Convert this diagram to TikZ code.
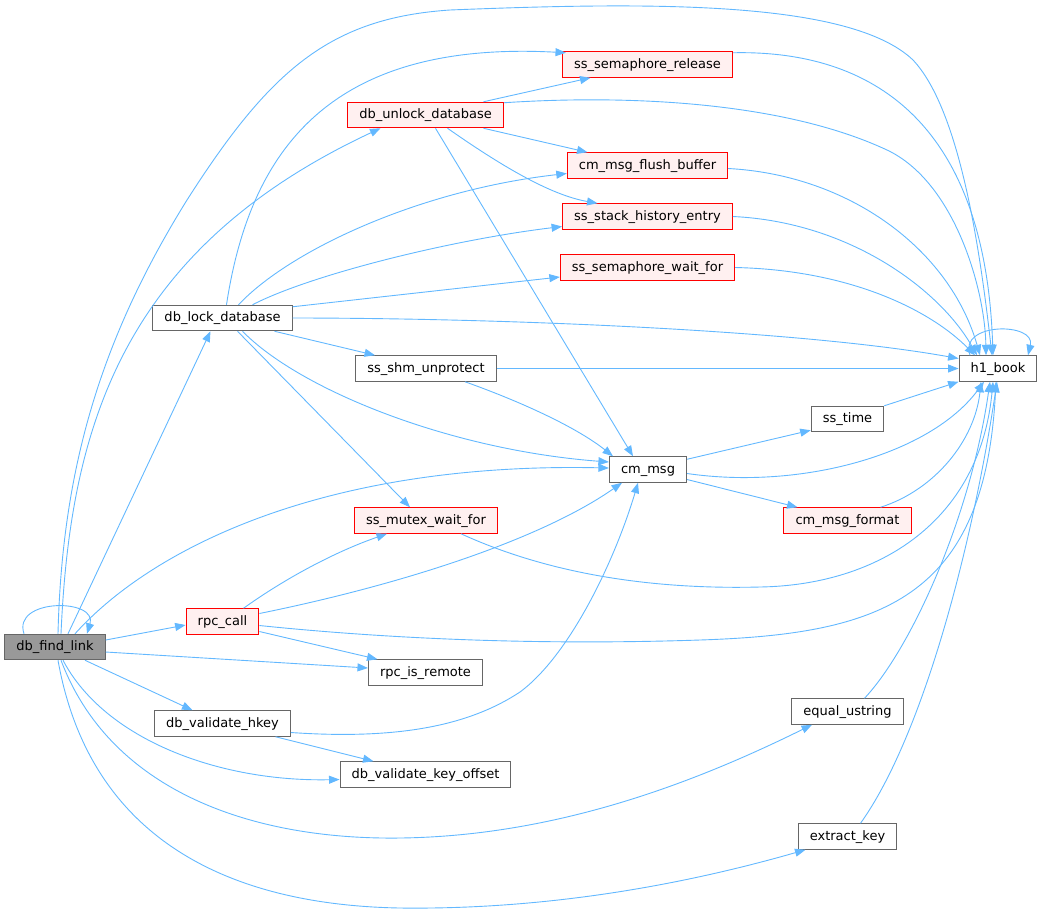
\documentclass[tikz,border=0pt]{standalone}
\usepackage{fontspec}
\setmainfont{DejaVu Sans}
\usetikzlibrary{arrows.meta}
\definecolor{linkblue}{HTML}{63B8FF}
\definecolor{boxgray}{HTML}{666666}
\definecolor{rootgray}{HTML}{999999}
\definecolor{redfill}{HTML}{FFF0F0}

\begin{document}
\begin{tikzpicture}[x=1pt,y=-1pt,
 fn/.style={draw=boxgray,fill=white,line width=1pt,minimum height=25.5pt,inner xsep=11.6pt,inner ysep=0pt,
  text height=10pt,text depth=3pt,font=\fontsize{13}{15}\selectfont},
 fnred/.style={fn,draw=red,fill=redfill},
 fnroot/.style={fn,fill=rootgray},
 calls/.style={draw=linkblue,line width=0.9pt,-{Triangle[length=10.5pt,width=8pt]}}]
 \useasboundingbox (0,0) rectangle (1043,914);

 \node[fnroot] (find) at (55,647) {db\_find\_link};
 \node[fnred] (rpccall) at (222.5,621.5) {rpc\_call};
 \node[fn] (rpcremote) at (425.5,672.5) {rpc\_is\_remote};
 \node[fn] (valhkey) at (222.5,723.5) {db\_validate\_hkey};
 \node[fn] (valkeyoff) at (425.5,774.5) {db\_validate\_key\_offset};
 \node[fn] (equstr) at (847.5,711.5) {equal\_ustring};
 \node[fn] (extkey) at (847.5,836.5) {extract\_key};
 \node[fn] (book) at (998,368.5) {h1\_book};
 \node[fn] (cmmsg) at (648,469.5) {cm\_msg};
 \node[fn] (sstime) at (847.5,419) {ss\_time};
 \node[fnred] (cmfmt) at (847.5,520.5) {cm\_msg\_format};
 \node[fnred] (mutexwait) at (426,520.5) {ss\_mutex\_wait\_for};
 \node[fn] (lockdb) at (222.5,318) {db\_lock\_database};
 \node[fn] (shmunprot) at (426,368.5) {ss\_shm\_unprotect};
 \node[fnred] (semwait) at (647.5,267.5) {ss\_semaphore\_wait\_for};
 \node[fnred] (stackhist) at (647.5,216.5) {ss\_stack\_history\_entry};
 \node[fnred] (flushbuf) at (647.5,165.5) {cm\_msg\_flush\_buffer};
 \node[fnred] (unlockdb) at (425.5,115) {db\_unlock\_database};
 \node[fnred] (semrel) at (647.5,64.5) {ss\_semaphore\_release};

 % db_find_link
 \draw[calls] ([xshift=-31]find.north) .. controls (12,598) and (98,598) .. ([xshift=32]find.north);
 \draw[calls] ([xshift=3]find.north) .. controls (62,470) and (100,340) .. (187,200)
   .. controls (270,70) and (330,18) .. (450,10) .. controls (650,2) and (850,0) .. (913,60)
   .. controls (960,110) and (980,250) .. ([xshift=-6]book.north);
 \draw[calls] ([xshift=6]find.north) .. controls (70,430) and (120,250) .. ([xshift=-45]unlockdb.south);
 \draw[calls] ([xshift=13]find.north) -- ([xshift=-12]lockdb.south);
 \draw[calls] ([xshift=20]find.north) .. controls (155,545) and (330,462) .. ([yshift=1.5]cmmsg.west);
 \draw[calls] ([yshift=7]find.east) -- ([yshift=-3.5]rpccall.west);
 \draw[calls] ([yshift=-5]find.east) -- ([yshift=4.5]rpcremote.west);
 \draw[calls] ([xshift=30]find.south) -- ([xshift=-30]valhkey.north);
 \draw[calls] ([xshift=8]find.south) .. controls (105,740) and (220,782) .. ([yshift=-5]valkeyoff.west);
 \draw[calls] ([xshift=6]find.south) .. controls (110,790) and (250,840) .. (400,838)
   .. controls (560,836) and (700,780) .. ([xshift=-35.5]equstr.south);
 \draw[calls] ([xshift=3]find.south) .. controls (90,840) and (230,905) .. (400,908)
   .. controls (560,910) and (700,880) .. ([xshift=-42]extkey.south);

 % db_lock_database
 \draw[calls] ([xshift=4]lockdb.north) .. controls (250,150) and (330,40) .. ([xshift=4,yshift=-1.5]semrel.north west);
 \draw[calls] ([xshift=16]lockdb.north) .. controls (290,250) and (420,190) .. ([yshift=-8]flushbuf.west);
 \draw[calls] ([xshift=30]lockdb.north) .. controls (310,275) and (450,240) .. ([yshift=-10]stackhist.west);
 \draw[calls] ([yshift=-2]lockdb.north east) -- ([yshift=-9.5]semwait.west);
 \draw[calls] (lockdb.east) .. controls (500,318) and (800,330) .. ([yshift=10]book.west);
 \draw[calls] ([xshift=52]lockdb.south) -- ([xshift=-51]shmunprot.north);
 \draw[calls] ([xshift=20]lockdb.south) .. controls (300,390) and (450,450) .. ([yshift=7.5]cmmsg.west);
 \draw[calls] ([xshift=15]lockdb.south) -- ([xshift=-16]mutexwait.north);

 % db_unlock_database
 \draw[calls] ([xshift=58]unlockdb.north) -- ([xshift=-57]semrel.south);
 \draw[calls] ([yshift=-1]unlockdb.north east) .. controls (620,95) and (780,100) .. (887,150)
   .. controls (955,182) and (985,290) .. ([xshift=-12]book.north);
 \draw[calls] ([xshift=58]unlockdb.south) -- ([xshift=-60]flushbuf.north);
 \draw[calls] ([xshift=22]unlockdb.south) .. controls (500,165) and (550,195) .. ([xshift=-50]stackhist.north);
 \draw[calls] ([xshift=10]unlockdb.south) -- ([xshift=-15]cmmsg.north);

 % into h1_book from the right column
 \draw[calls] ([yshift=-1.5]semrel.north east) .. controls (860,50) and (985,110) .. ([xshift=-5]book.north);
 \draw[calls] ([yshift=-3]flushbuf.east) .. controls (850,175) and (950,250) .. ([xshift=-18]book.north);
 \draw[calls] (stackhist.east) .. controls (850,222) and (940,290) .. ([xshift=-21]book.north);
 \draw[calls] (semwait.east) .. controls (850,270) and (930,310) .. ([xshift=-23]book.north);
 \draw[calls] (shmunprot.east) -- (book.west);
 \draw[calls] ([xshift=39]shmunprot.south) .. controls (530,405) and (580,430) .. ([xshift=-35]cmmsg.north);

 % cm_msg
 \draw[calls] ([yshift=-3]cmmsg.north east) -- ([yshift=2]sstime.south west);
 \draw[calls] ([yshift=-4]cmmsg.east) .. controls (800,490) and (930,455) .. ([xshift=-14]book.south);
 \draw[calls] ([yshift=-10]cmmsg.east) -- ([xshift=-50]cmfmt.north);
 \draw[calls] (sstime.north east) -- (book.south west);
 \draw[calls] ([xshift=33]cmfmt.north) .. controls (935,490) and (975,440) .. ([xshift=-17]book.south);
 \draw[calls] ([xshift=35]mutexwait.south) .. controls (540,570) and (640,590) .. (760,587)
   .. controls (880,585) and (980,520) .. ([xshift=-5]book.south);

 % rpc_call
 \draw[calls] ([xshift=21]rpccall.north) .. controls (290,575) and (340,550) .. ([xshift=-39]mutexwait.south);
 \draw[calls] ([yshift=8]rpccall.east) .. controls (400,585) and (540,540) .. ([xshift=-26]cmmsg.south);
 \draw[calls] ([yshift=-4]rpccall.east) .. controls (400,640) and (550,645) .. (700,640)
   .. controls (880,634) and (985,600) .. ([xshift=-2]book.south);
 \draw[calls] ([yshift=-10]rpccall.east) -- ([xshift=-48]rpcremote.north);

 % db_validate_hkey
 \draw[calls] ([yshift=-9]valhkey.east) .. controls (400,740) and (470,725) .. (520,692)
   .. controls (570,655) and (615,560) .. ([xshift=-10]cmmsg.south);
 \draw[calls] ([xshift=53]valhkey.south) -- ([xshift=-52]valkeyoff.north);

 % equal_ustring, extract_key
 \draw[calls] ([xshift=17]equstr.north) .. controls (910,650) and (970,520) .. ([xshift=-8]book.south);
 \draw[calls] ([xshift=13]extkey.north) .. controls (920,740) and (970,560) .. ([xshift=-1]book.south);

 % h1_book
 \draw[calls] ([xshift=-28]book.north) .. controls (958,322) and (1036,322) .. ([xshift=30]book.north);
\end{tikzpicture}
\end{document}
